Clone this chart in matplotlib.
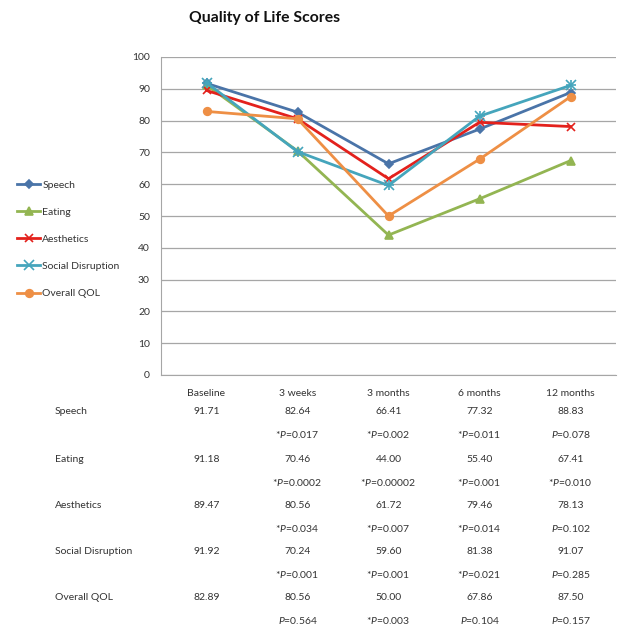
import matplotlib
matplotlib.use("Agg")
import matplotlib.pyplot as plt
import matplotlib.transforms as mtransforms

categories = ["Baseline", "3 weeks", "3 months", "6 months", "12 months"]
series_names = ["Speech", "Eating", "Aesthetics", "Social Disruption", "Overall QOL"]
speech = [91.71, 82.64, 66.41, 77.32, 88.83]
eating = [91.18, 70.46, 44.00, 55.40, 67.41]
aesthetics = [89.47, 80.56, 61.72, 79.46, 78.13]
social = [91.92, 70.24, 59.60, 81.38, 91.07]
overall = [82.89, 80.56, 50.00, 67.86, 87.50]
speech_p = ["", "*P=0.017", "*P=0.002", "*P=0.011", "P=0.078"]
eating_p = ["", "*P=0.0002", "*P=0.00002", "*P=0.001", "*P=0.010"]
aesthetics_p = ["", "*P=0.034", "*P=0.007", "*P=0.014", "P=0.102"]
social_p = ["", "*P=0.001", "*P=0.001", "*P=0.021", "P=0.285"]
overall_p = ["", "P=0.564", "*P=0.003", "P=0.104", "P=0.157"]
yticks = [0, 10, 20, 30, 40, 50, 60, 70, 80, 90, 100]

plt.rcParams['font.family'] = ['Lato', 'DejaVu Sans']
plt.rcParams['mathtext.fontset'] = 'custom'
plt.rcParams['mathtext.it'] = 'Lato:italic'
plt.rcParams['mathtext.rm'] = 'Lato'

W, H = 629, 642
fig = plt.figure(figsize=(W / 100, H / 100), dpi=100)
ax = fig.add_axes([161 / W, 1 - 375 / H, (616 - 161) / W, (375 - 57) / H])

values = [speech, eating, aesthetics, social, overall]
pvals = [speech_p, eating_p, aesthetics_p, social_p, overall_p]
colors = ["#4A74A8", "#93B552", "#E3211C", "#45A5BC", "#EE8F45"]
markers = ["D", "^", "x", "x", "o"]
msizes = [4.5, 5.5, 6, 7, 5.5]
xs = [i + 0.5 for i in range(len(categories))]

handles = []
for name, vals, c, m, ms in zip(series_names, values, colors, markers, msizes):
    h, = ax.plot(xs, vals, color=c, lw=2.0, marker=m, ms=ms, mew=1.2,
                 mfc=c, mec=c, label=name, zorder=3)
    if name == "Social Disruption":
        ax.plot(xs, vals, ls="none", marker="+", ms=7, mew=1.2, color=c, zorder=3)
    handles.append(h)

ax.set_xlim(0, len(categories))
ax.set_ylim(0, 100)
ax.set_yticks(yticks)
ax.set_xticks(xs)
ax.set_xticklabels(categories)
ax.yaxis.grid(True, color="#A6A6A6", lw=0.9)
ax.set_axisbelow(True)
for s in ["top", "right"]:
    ax.spines[s].set_visible(False)
ax.spines["left"].set_color("#A6A6A6")
ax.spines["bottom"].set_color("#A6A6A6")
ax.tick_params(axis="both", length=0, labelsize=7.5, colors="#333333")
ax.tick_params(axis="x", pad=10)
ax.tick_params(axis="y", pad=8)

fig.text(265 / W, 1 - 18 / H, "Quality of Life Scores", ha="center", va="center",
         fontsize=11.3, fontweight="bold", color="#111111")

leg = fig.legend(handles=handles, labels=series_names, loc="upper left",
                 bbox_to_anchor=(12 / W, 1 - 175 / H), frameon=False,
                 fontsize=7.5, handlelength=2.2, handletextpad=0.2,
                 labelspacing=1.72, borderpad=0)
for t in leg.get_texts():
    t.set_color("#333333")

trans = mtransforms.blended_transform_factory(ax.transData, fig.transFigure)
row_y = [412, 459, 505, 552, 598]
p_y = [435, 482, 528, 574, 621]
for name, vals, ps, ry, py in zip(series_names, values, pvals, row_y, p_y):
    fig.text(55 / W, 1 - ry / H, name, ha="left", va="center", fontsize=7.5, color="#333333")
    for x, v, p in zip(xs, vals, ps):
        ax.text(x, 1 - ry / H, f"{v:.2f}", transform=trans, ha="center", va="center",
                fontsize=7.5, color="#333333")
        if p:
            star = p.startswith("*")
            body = p[1:] if star else p
            txt = ("*" if star else "") + r"$\mathit{P}$" + body[1:]
            ax.text(x, 1 - py / H, txt, transform=trans, ha="center", va="center",
                    fontsize=7.5, color="#333333")

fig.savefig("out.png", dpi=100)
